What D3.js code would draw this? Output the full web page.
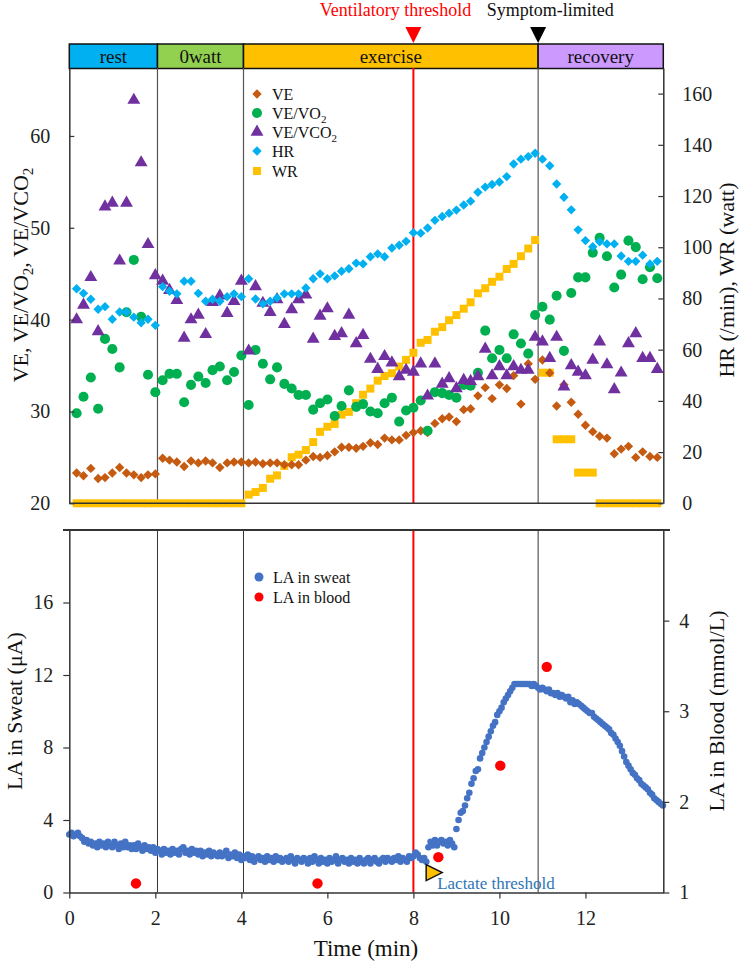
<!DOCTYPE html>
<html><head><meta charset="utf-8">
<script src="https://cdn.jsdelivr.net/npm/d3@7"></script>
<style>
body{margin:0;background:#fff}
svg{display:block}
text{font-family:"Liberation Serif","Times New Roman",serif}
</style>
</head><body>
<svg id="c" width="749" height="965"></svg>
<script>
// ---------- data: top panel (10 s averages) ----------
const times = [0.17,0.33,0.5,0.67,0.83,1,1.17,1.33,1.5,1.67,1.83,2,2.17,2.33,2.5,2.67,2.83,3,3.17,3.33,3.5,3.67,3.83,4,4.17,4.33,4.5,4.67,4.83,5,5.17,5.33,5.5,5.67,5.83,6,6.17,6.33,6.5,6.67,6.83,7,7.17,7.33,7.5,7.67,7.83,8,8.17,8.33,8.5,8.67,8.83,9,9.17,9.33,9.5,9.67,9.83,10,10.17,10.33,10.5,10.67,10.83,11,11.17,11.33,11.5,11.67,11.83,12,12.17,12.33,12.5,12.67,12.83,13,13.17,13.33,13.5,13.67];
const VE = [23.3,23.0,23.8,22.7,22.8,23.3,23.9,23.3,23.1,22.8,23.1,23.2,
  24.9,24.7,24.5,24.0,24.6,24.4,24.6,24.4,23.9,24.4,24.5,24.5,
  24.4,24.5,24.3,24.4,24.4,24.2,24.2,24.2,24.7,25.1,
  25.0,25.2,25.6,26.1,26.1,26.0,26.2,26.6,26.4,27.1,
  26.9,26.9,27.4,27.7,27.9,27.7,28.7,29.2,29.4,28.9,
  30.2,30.3,31.7,32.6,31.4,32.9,32.5,33.9,30.8,35.2,33.5,
  35.6,34.2,30.6,32.9,31.0,29.7,28.5,27.8,27.3,27.1,25.4,25.9,26.2,25.0,25.6,25.1,25.0];
const VE_VO2 = [29.8,31.6,33.7,30.3,37.9,36.8,34.8,40.8,46.5,40.3,34.0,32.1,
  33.4,34.1,34.1,31.0,32.9,33.8,33.1,34.5,34.9,33.4,34.3,36.1,
  30.7,36.7,35.2,33.5,34.8,33.0,32.5,31.8,31.8,30.2,
  30.9,31.3,29.5,30.6,32.3,30.5,30.8,30.0,29.8,30.9,
  31.5,28.9,30.1,30.4,31.2,27.9,32.1,32.0,31.8,31.5,
  32.9,32.8,34.2,38.8,35.8,36.7,35.8,38.4,37.4,36.3,40.5,
  41.4,40.0,42.6,36.6,42.9,44.6,44.6,47.3,48.9,46.9,43.5,44.9,48.6,47.9,44.4,45.7,44.5];
const VE_VCO2 = [40.0,41.6,44.6,38.7,52.3,52.7,46.4,52.7,63.9,57.1,48.2,44.8,
  44.2,43.2,42.1,38.0,40.0,40.5,38.4,41.9,42.6,40.7,42.0,44.2,
  36.6,43.6,41.8,40.8,42.2,39.5,41.1,42.2,42.7,37.9,
  40.4,41.2,38.2,38.5,40.5,37.4,38.3,35.7,34.6,36.0,
  35.3,33.8,34.5,34.3,35.2,31.7,35.2,33.0,33.6,32.5,
  33.4,33.3,33.8,36.8,33.9,34.9,33.9,34.9,34.5,34.5,38.1,
  37.6,35.8,38.1,32.7,35.0,34.3,33.9,35.6,37.6,35.1,32.4,34.2,37.4,38.5,35.8,35.8,34.6];
const HR = [83.8,82.0,79.7,75.8,76.8,71.9,74.7,74.7,72.7,70.5,71.9,69.5,
  84.6,82.8,81.8,86.7,86.7,82.0,78.9,79.7,78.9,80.7,81.8,80.7,
  87.7,79.8,77.9,78.9,80.2,81.8,81.8,81.8,84.1,87.7,
  89.6,87.7,88.8,90.6,91.6,93.8,93.5,96.3,97.4,96.3,
  99.7,100.8,102.3,105.7,105.5,107.5,110.5,112.0,113.3,114.5,
  116.5,118.0,121.5,123.5,124.5,125.5,127.6,132.5,134.4,135.4,136.7,
  134.4,131.8,124.7,119.5,114.6,106.8,102.6,100.2,102.1,101.3,101.3,96.6,94.5,94.5,96.9,93.5,94.5];
const WR = [0,0,0,0,0,0,0,0,0,0,0,0,0,0,0,0,0,0,0,0,0,0,0,0,
  3.4,4.4,6.0,9.6,10.9,14.6,18.0,19.0,20.8,23.9,
  27.9,29.9,31.0,34.6,35.7,39.1,42.4,44.8,47.9,49.7,
  50.8,53.4,56.0,58.8,62.7,63.8,67.0,68.8,71.5,73.5,
  76.0,78.5,82.0,84.0,86.5,88.5,91.5,93.5,96.5,99.5,102.8,
  51,51,25,25,25,12,12,12,0,0,0,0,0,0,0,0,0];

// ---------- phases / markers ----------
const phaseNames = ["rest","0watt","exercise","recovery"];
const phaseStart = [0,2.05,4.05,10.9];
const phaseEnd = [2.05,4.05,10.9,13.81];
const phaseColors = ["#00b0f0","#92d050","#ffc000","#cc99ff"];
const boundaryTimes = [2.05,4.05,10.9];
const ventThreshold = 8.0;
const symptomLimited = 10.9;

// ---------- data: bottom panel ----------
const sweatT = [0,0.05,0.1,0.15,0.2,0.25,0.3,0.35,0.4,0.45,0.5,0.55,0.6,0.65,0.7,0.75,0.8,0.85,0.9,0.95,
1,1.05,1.1,1.15,1.2,1.25,1.3,1.35,1.4,1.45,1.5,1.55,1.6,1.65,1.7,1.75,1.8,1.85,1.9,1.95,
2,2.05,2.1,2.15,2.2,2.25,2.3,2.35,2.4,2.45,2.5,2.55,2.6,2.65,2.7,2.75,2.8,2.85,2.9,2.95,
3,3.05,3.1,3.15,3.2,3.25,3.3,3.35,3.4,3.45,3.5,3.55,3.6,3.65,3.7,3.75,3.8,3.85,3.9,3.95,
4,4.05,4.1,4.15,4.2,4.25,4.3,4.35,4.4,4.45,4.5,4.55,4.6,4.65,4.7,4.75,4.8,4.85,4.9,4.95,
5,5.05,5.1,5.15,5.2,5.25,5.3,5.35,5.4,5.45,5.5,5.55,5.6,5.65,5.7,5.75,5.8,5.85,5.9,5.95,
6,6.05,6.1,6.15,6.2,6.25,6.3,6.35,6.4,6.45,6.5,6.55,6.6,6.65,6.7,6.75,6.8,6.85,6.9,6.95,
7,7.05,7.1,7.15,7.2,7.25,7.3,7.35,7.4,7.45,7.5,7.55,7.6,7.65,7.7,7.75,7.8,7.85,7.9,7.95,
8,8.05,8.1,8.15,8.2,8.25,8.3,8.35,8.4,8.45,8.5,8.55,8.6,8.65,8.7,8.75,8.8,8.85,8.9,8.95,
9,9.05,9.1,9.15,9.2,9.25,9.3,9.35,9.4,9.45,9.5,9.55,9.6,9.65,9.7,9.75,9.8,9.85,9.9,9.95,
10,10.05,10.1,10.15,10.2,10.25,10.3,10.35,10.4,10.45,10.5,10.55,10.6,10.65,10.7,10.75,10.8,10.85,10.9,10.95,
11,11.05,11.1,11.15,11.2,11.25,11.3,11.35,11.4,11.45,11.5,11.55,11.6,11.65,11.7,11.75,11.8,11.85,11.9,11.95,
12,12.05,12.1,12.15,12.2,12.25,12.3,12.35,12.4,12.45,12.5,12.55,12.6,12.65,12.7,12.75,12.8,12.85,12.9,12.95,
13,13.05,13.1,13.15,13.2,13.25,13.3,13.35,13.4,13.45,13.5,13.55,13.6,13.65,13.7,13.75,13.8];
const sweatLA = [3.2,3.3,3.1,3.2,3.3,3.1,3.0,2.8,2.9,2.7, 2.8,2.6,2.7,2.5,2.8,2.6,2.7,2.5,2.8,2.6,
2.5,2.8,2.6,2.4,2.7,2.5,2.8,2.5,2.6,2.4, 2.6,2.4,2.7,2.5,2.3,2.6,2.4,2.5,2.3,2.5,
2.2,2.4,2.3,2.1,2.4,2.2,2.3,2.1,2.4,2.2, 2.3,2.1,2.4,2.5,2.2,2.3,2.1,2.4,2.2,2.3,
2.1,2.3,2.0,2.2,2.1,2.3,2.0,2.2,2.1,2.0, 2.2,2.0,2.1,2.3,1.9,2.1,2.0,2.2,1.9,2.1,
1.8,2.0,1.9,2.1,1.8,2.0,1.7,1.9,2.0,1.8, 1.9,1.7,2.0,1.8,1.9,1.7,2.0,1.8,1.9,1.7,
1.8,1.9,1.7,2.0,1.8,1.6,1.9,1.8,1.7,1.9, 1.8,1.6,1.9,1.7,2.0,1.8,1.6,1.9,1.7,1.8,
1.6,1.9,1.7,1.8,2.0,1.6,1.8,1.9,1.7,1.8, 1.6,1.9,1.7,1.8,1.6,1.9,1.7,1.6,1.8,1.9,
1.6,1.8,1.9,1.7,1.6,1.8,1.9,1.7,1.9,1.8, 1.7,1.9,1.8,2.0,1.7,1.9,1.8,1.7,2.0,1.9,
2.0,2.2,2.1,1.9,1.8,1.9,1.7,2.5,2.8,2.6, 2.9,2.6,2.8,2.9,2.7,2.8,2.6,2.9,2.7,2.5,
3.5,4.0,4.4,4.5,4.8,5.2,5.5,6.0,6.3,6.7, 6.8,7.4,7.7,8.0,8.3,8.6,8.9,9.2,9.4,9.8,
10.0,10.2,10.5,10.7,10.9,11.1,11.3,11.5,11.5,11.5, 11.5,11.5,11.5,11.5,11.5,11.4,11.5,11.4,11.3,11.2,
11.3,11.2,11.1,11.2,11.0,11.0,10.9,11.0,10.8,10.9, 10.8,10.7,10.8,10.5,10.6,10.4,10.5,10.4,10.3,10.2,
10.1,10.0,9.9,9.9,9.7,9.6,9.5,9.4,9.3,9.2, 9.1,9.0,8.8,8.7,8.5,8.3,8.1,7.8,7.5,7.2,
7.0,6.8,6.6,6.5,6.3,6.2,6.0,5.9,5.8,5.7, 5.5,5.4,5.2,5.1,5.0,4.9,4.8];
const bloodT = [1.55,5.77,8.58,10.02,11.1];
const bloodLA = [1.1,1.1,1.39,2.4,3.49];
const lactateThrT = 8.46, lactateThrV = 1.22;

// ---------- tick labels ----------
const leftTopTicks = [20,30,40,50,60];
const rightTopTicks = [0,20,40,60,80,100,120,140,160];
const leftBotTicks = [0,4,8,12,16];
const rightBotTicks = [1,2,3,4];
const timeTicks = [0,2,4,6,8,10,12];

// ---------- scales ----------
const X0 = 69.3, X1 = 663.3;
const x = d3.scaleLinear().domain([0,13.81]).range([X0,X1]);
const TOP = 68, BOT = 503.3;
const yL = d3.scaleLinear().domain([20,67.4]).range([BOT,TOP]);
const yR = d3.scaleLinear().domain([0,170]).range([BOT,TOP]);
const B_TOP = 530, B_BOT = 892.5;
const yS = d3.scaleLinear().domain([0,20]).range([B_BOT,B_TOP]);
const yB = d3.scaleLinear().domain([1,5]).range([B_BOT,B_TOP]);

const svg = d3.select("#c");
const FONT = '"Liberation Serif","Times New Roman",serif';
const fmt = d3.format("d");

// ---------- phase band ----------
const band = svg.append("g");
phaseNames.forEach((n,i)=>{
  band.append("rect").attr("x",x(phaseStart[i])).attr("y",44)
    .attr("width",x(phaseEnd[i])-x(phaseStart[i])).attr("height",24.5)
    .attr("fill",phaseColors[i]).attr("stroke","#111").attr("stroke-width",1.5);
  band.append("text").attr("x",(x(phaseStart[i])+x(phaseEnd[i]))/2).attr("y",62.5)
    .attr("text-anchor","middle").attr("font-size",19).attr("fill","#111").text(n);
});
function downTri(cx, color){
  svg.append("path").attr("d",`M${cx-8},27L${cx+8},27L${cx},43Z`).attr("fill",color);
}
downTri(x(ventThreshold),"#ff0000");
downTri(x(symptomLimited),"#000");
svg.append("text").attr("x",x(ventThreshold)-18).attr("y",16).attr("text-anchor","middle")
  .attr("font-size",18).attr("fill","#ff0000").text("Ventilatory threshold");
svg.append("text").attr("x",x(symptomLimited)+12).attr("y",16).attr("text-anchor","middle")
  .attr("font-size",18).attr("fill","#111").text("Symptom-limited");

// ---------- top panel ----------
const gTop = svg.append("g");
boundaryTimes.forEach(t=>{
  gTop.append("line").attr("x1",x(t)).attr("x2",x(t)).attr("y1",TOP).attr("y2",BOT)
    .attr("stroke","#555").attr("stroke-width",1.2);
});
gTop.append("line").attr("x1",x(ventThreshold)).attr("x2",x(ventThreshold)).attr("y1",TOP).attr("y2",BOT)
  .attr("stroke","#ff0000").attr("stroke-width",2);

const symDiamond = d3.symbol().type(d3.symbolSquare).size(44)();
const symCircle = d3.symbol().type(d3.symbolCircle).size(80)();
const symTri = d3.symbol().type(d3.symbolTriangle).size(72)();
const symSquare = d3.symbol().type(d3.symbolSquare).size(64)();

function plotSeries(vals, yScale, path, color, rot){
  gTop.append("g").selectAll("path").data(vals.map((v,i)=>[times[i],v])).join("path")
    .attr("d",path).attr("fill",color)
    .attr("transform",d=>`translate(${x(d[0])},${yScale(d[1])})${rot?" rotate(45)":""}`);
}
plotSeries(WR, yR, symSquare, "#ffc000", false);
plotSeries(VE, yL, symDiamond, "#c55a11", true);
plotSeries(VE_VO2, yL, symCircle, "#00b050", false);
plotSeries(VE_VCO2, yL, symTri, "#7030a0", false);
plotSeries(HR, yR, symDiamond, "#00b0f0", true);

gTop.append("g").attr("transform",`translate(${X0},0)`)
  .call(d3.axisLeft(yL).tickValues(leftTopTicks).tickFormat(fmt).tickSize(-5).tickSizeOuter(0).tickPadding(19));
gTop.append("g").attr("transform",`translate(${X1},0)`)
  .call(d3.axisRight(yR).tickValues(rightTopTicks).tickFormat(fmt).tickSize(-5).tickSizeOuter(0).tickPadding(19));
gTop.append("line").attr("x1",X0).attr("x2",X1).attr("y1",BOT).attr("y2",BOT).attr("stroke","#333").attr("stroke-width",1.5);

const legItems = [
  {label:["VE"], path:symDiamond, color:"#c55a11", rot:true},
  {label:["VE/VO","2"], path:symCircle, color:"#00b050"},
  {label:["VE/VCO","2"], path:symTri, color:"#7030a0"},
  {label:["HR"], path:symDiamond, color:"#00b0f0", rot:true},
  {label:["WR"], path:symSquare, color:"#ffc000"}
];
const legY = [94,113,132,151,171];
legItems.forEach((it,i)=>{
  gTop.append("path").attr("d",it.path).attr("fill",it.color)
    .attr("transform",`translate(257,${legY[i]})${it.rot?" rotate(45)":""}`);
  const t = gTop.append("text").attr("x",272).attr("y",legY[i]+5.5).attr("font-size",16).attr("fill","#111");
  t.append("tspan").text(it.label[0]);
  if(it.label[1]) t.append("tspan").attr("font-size",11).attr("dy",4).text(it.label[1]);
});

const tl = svg.append("text").attr("transform",`translate(28,275) rotate(-90)`)
  .attr("text-anchor","middle").attr("font-size",22).attr("fill","#111");
tl.append("tspan").text("VE, VE/VO");
tl.append("tspan").attr("font-size",15).attr("dy",5).text("2");
tl.append("tspan").attr("dy",-5).text(", VE/VCO");
tl.append("tspan").attr("font-size",15).attr("dy",5).text("2");
svg.append("text").attr("transform",`translate(734,280) rotate(-90)`)
  .attr("text-anchor","middle").attr("font-size",22).attr("fill","#111").text("HR (/min), WR (watt)");

// ---------- bottom panel ----------
const gBot = svg.append("g");
boundaryTimes.forEach(t=>{
  gBot.append("line").attr("x1",x(t)).attr("x2",x(t)).attr("y1",B_TOP).attr("y2",B_BOT)
    .attr("stroke","#333").attr("stroke-width",1);
});
gBot.append("line").attr("x1",x(ventThreshold)).attr("x2",x(ventThreshold)).attr("y1",B_TOP).attr("y2",B_BOT)
  .attr("stroke","#ff0000").attr("stroke-width",2);
gBot.append("line").attr("x1",63).attr("x2",670).attr("y1",B_TOP).attr("y2",B_TOP)
  .attr("stroke","#333").attr("stroke-width",2.2);

gBot.append("g").selectAll("circle").data(sweatT.map((t,i)=>[t,sweatLA[i]])).join("circle")
  .attr("cx",d=>x(d[0])).attr("cy",d=>yS(d[1])).attr("r",3.3).attr("fill","#4472c4");
gBot.append("g").selectAll("circle").data(bloodT.map((t,i)=>[t,bloodLA[i]])).join("circle")
  .attr("cx",d=>x(d[0])).attr("cy",d=>yB(d[1])).attr("r",5.2).attr("fill","#ff0000");

const ltx = x(lactateThrT), lty = yB(lactateThrV);
gBot.append("path").attr("d",`M${ltx-7},${lty-8}L${ltx+9},${lty}L${ltx-7},${lty+8}Z`)
  .attr("fill","#ffc000").attr("stroke","#111").attr("stroke-width",1.5);
gBot.append("text").attr("x",ltx+4).attr("y",889).attr("font-size",17).attr("fill","#2e75b6").text("Lactate threshold");

gBot.append("g").attr("transform",`translate(${X0},0)`)
  .call(d3.axisLeft(yS).tickValues(leftBotTicks).tickFormat(fmt).tickSize(6).tickSizeOuter(0).tickPadding(10));
gBot.append("g").attr("transform",`translate(${X1},0)`)
  .call(d3.axisRight(yB).tickValues(rightBotTicks).tickFormat(fmt).tickSize(6).tickSizeOuter(0).tickPadding(10));
gBot.append("g").attr("transform",`translate(0,${B_BOT})`)
  .call(d3.axisBottom(x).tickValues(timeTicks).tickFormat(fmt).tickSize(6).tickSizeOuter(0).tickPadding(12));

const bl = [{t:"LA in sweat",c:"#4472c4",y:577},{t:"LA in blood",c:"#ff0000",y:597}];
bl.forEach(b=>{
  gBot.append("circle").attr("cx",259).attr("cy",b.y).attr("r",4.5).attr("fill",b.c);
  gBot.append("text").attr("x",273).attr("y",b.y+5.5).attr("font-size",16).attr("fill","#111").text(b.t);
});

svg.append("text").attr("transform",`translate(22,711) rotate(-90)`)
  .attr("text-anchor","middle").attr("font-size",22).attr("fill","#111").text("LA in Sweat (μA)");
svg.append("text").attr("transform",`translate(724,711) rotate(-90)`)
  .attr("text-anchor","middle").attr("font-size",22).attr("fill","#111").text("LA in Blood (mmol/L)");
svg.append("text").attr("x",366).attr("y",956).attr("text-anchor","middle")
  .attr("font-size",23).attr("fill","#111").text("Time (min)");

svg.selectAll(".tick text").attr("font-size",20).style("font-family",FONT).attr("fill","#222");
svg.selectAll(".domain").attr("stroke","#333").attr("stroke-width",1.5);
svg.selectAll(".tick line").attr("stroke","#333").attr("stroke-width",1.2);
</script>
</body></html>
